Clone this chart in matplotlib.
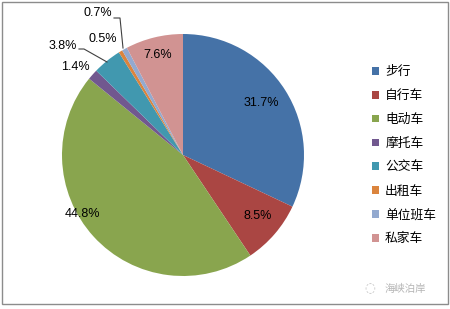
import matplotlib.pyplot as plt
from matplotlib.patches import Rectangle

plt.rcParams['font.family'] = ['Noto Sans CJK SC', 'DejaVu Sans']

modes = ["步行", "自行车", "电动车", "摩托车", "公交车", "出租车", "单位班车", "私家车"]
shares = [31.7, 8.5, 44.8, 1.4, 3.8, 0.5, 0.7, 7.6]
colors = ["#4572A7", "#AA4643", "#89A54E", "#71588F",
          "#4198AF", "#DB843D", "#93A9CF", "#D19392"]

# label spots in units of pie radius (pie centre at 0,0)
label_xy = [(0.65, 0.43), (0.62, -0.50), (-0.83, -0.49), (-0.89, 0.73),
            (-0.99, 0.90), (-0.66, 0.96), (-0.70, 1.17), (-0.21, 0.83)]

W, H = 450, 309
cx, cy, r = 183, 309 - 155, 121

fig = plt.figure(figsize=(W / 100, H / 100), dpi=100)
ax = fig.add_axes([0, 0, 1, 1])

wedges, _ = ax.pie(shares, colors=colors, startangle=90, counterclock=False,
                   radius=1, center=(0, 0), frame=True)
ax.set_xlim(-cx / r, (W - cx) / r)
ax.set_ylim(-cy / r, (H - cy) / r)
ax.axis("off")

for val, (x, y) in zip(shares, label_xy):
    ax.text(x, y, f"{val:.1f}%", ha="center", va="center", fontsize=9,
            family="Liberation Sans", color="#000000")


def px(x, y):
    return (x - cx) / r, ((H - y) - cy) / r


# leader lines for the two small outer labels
for pts in ([(79, 49), (84, 49), (107, 62)], [(114, 18), (120, 18), (123, 48)]):
    xs, ys = zip(*[px(*p) for p in pts])
    ax.plot(xs, ys, color="#404040", lw=0.8)

leg = ax.legend(wedges, modes, loc="upper left",
                bbox_to_anchor=(366 / W, 1 - 59 / H), bbox_transform=fig.transFigure,
                frameon=False, fontsize=9.2, handlelength=0.55, handleheight=0.55,
                handletextpad=0.45, labelspacing=0.85, borderpad=0)

ax.text(*px(405, 289), "海峡泊岸", ha="center", va="center", fontsize=7.5,
        color="#b5b5b5")
ax.text(*px(370, 289), "◌", ha="center", va="center", fontsize=9,
        color="#c0c0c0", family="DejaVu Sans")

fig.patches.append(Rectangle((1.5 / W, 1 - 304 / H), 446.5 / W, 302.5 / H,
                             transform=fig.transFigure, fill=False,
                             edgecolor="#8c8c8c", lw=1))

fig.savefig("out.png", dpi=100)
